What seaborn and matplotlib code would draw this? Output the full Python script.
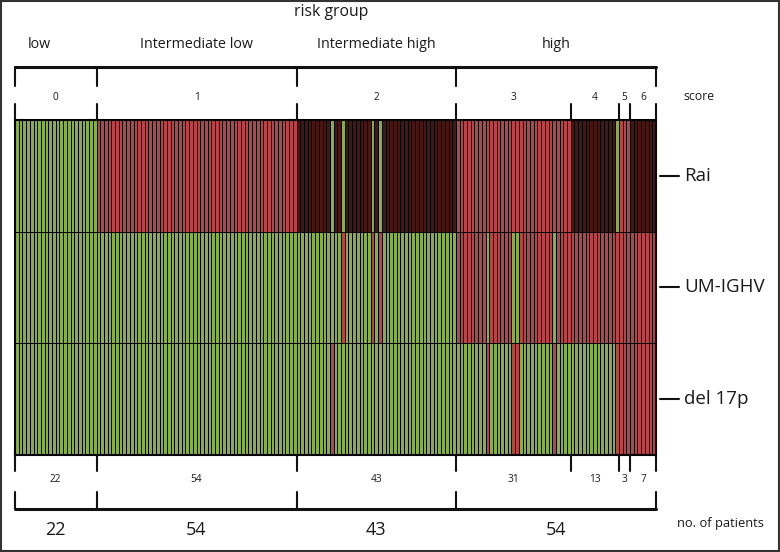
import numpy as np
import matplotlib
matplotlib.use('Agg')
import matplotlib.pyplot as plt
from matplotlib.colors import ListedColormap
from matplotlib.patches import Rectangle
import seaborn as sns

sns.set_style('white')
plt.rcParams['font.family'] = ['Open Sans', 'DejaVu Sans']

# patients per score
scores = ['0', '1', '2', '3', '4', '5', '6']
score_counts = [22, 54, 43, 31, 13, 3, 7]

# risk groups (score 0 / 1 / 2 / 3-6)
risk_groups = ['low', 'Intermediate low', 'Intermediate high', 'high']
risk_counts = [22, 54, 43, 54]

row_names = ['Rai', 'UM-IGHV', 'del 17p']

# per patient, run-length coded (value, count)
# Rai: 0 low, 1 intermediate, 2 high ; others: 0 no, 1 yes
rai_runs = [(0, 22), (1, 54), (2, 9), (0, 1), (2, 2), (0, 1), (2, 7), (0, 1), (2, 1),
            (0, 1), (2, 20), (1, 31), (2, 12), (0, 1), (1, 3), (2, 7)]
um_runs = [(0, 88), (1, 1), (0, 7), (1, 1), (0, 1), (1, 1), (0, 20), (1, 8), (0, 1),
           (1, 6), (0, 2), (1, 9), (0, 1), (1, 27)]
del_runs = [(0, 85), (1, 1), (0, 41), (1, 1), (0, 6), (1, 2), (0, 9), (1, 1), (0, 16), (1, 11)]


def decode(runs):
    return np.concatenate([np.full(n, v) for v, n in runs])


mat = np.vstack([decode(rai_runs), decode(um_runs), decode(del_runs)])
n = mat.shape[1]

green = '#89ad4a'
red = '#b4454b'
dark = '#461613'
cmap = ListedColormap([green, red, dark])

W, H = 780, 552
fig = plt.figure(figsize=(7.8, 5.52), dpi=100)

# heatmap placed in pixel frame
x0, x1 = 15, 656
y0, y1 = 120, 455
ax = fig.add_axes([x0 / W, 1 - y1 / H, (x1 - x0) / W, (y1 - y0) / H])
sns.heatmap(mat, cmap=cmap, vmin=-0.5, vmax=2.5, cbar=False, linewidths=0.7,
            linecolor='black', xticklabels=False, yticklabels=False, ax=ax)
for s in ax.spines.values():
    s.set_visible(True)
    s.set_linewidth(1.5)
    s.set_color('black')

# overlay in pixel coordinates
ov = fig.add_axes([0, 0, 1, 1], facecolor='none')
ov.set_xlim(0, W)
ov.set_ylim(H, 0)
ov.axis('off')

cw = (x1 - x0) / n


def px(col):
    return x0 + col * cw


score_edges = np.concatenate([[0], np.cumsum(score_counts)])
risk_edges = np.concatenate([[0], np.cumsum(risk_counts)])
lc = '#111111'
tc = '#1a1a1a'

# top bracket (risk groups)
ov.plot([px(0), px(n)], [67, 67], color=lc, lw=2.2)
for e in risk_edges:
    ov.plot([px(e), px(e)], [67, 86], color=lc, lw=1.5)
for i, g in enumerate(risk_groups):
    cx = px((risk_edges[i] + risk_edges[i + 1]) / 2)
    if i == 0:
        cx -= 16
    ov.text(cx, 45, g, ha='center', va='center', fontsize=10.3, color=tc)
ov.text(331, 12, 'risk group', ha='center', va='center', fontsize=11.3, color=tc)

# score ticks and labels
for e in score_edges:
    ov.plot([px(e), px(e)], [104, y0], color=lc, lw=1.5)
    ov.plot([px(e), px(e)], [y1, 471], color=lc, lw=1.5)
for i, s in enumerate(scores):
    cx = px((score_edges[i] + score_edges[i + 1]) / 2)
    ov.text(cx, 97, s, ha='center', va='center', fontsize=7.3, color=tc)
    ov.text(cx, 480, str(score_counts[i]), ha='center', va='center', fontsize=7.3, color=tc)
ov.text(699, 97, 'score', ha='center', va='center', fontsize=8.8, color=tc)

# row labels
row_y = [176, 287, 399]
for name, yy in zip(row_names, row_y):
    ov.plot([660, 679], [yy, yy], color=lc, lw=1.5)
    ov.text(684, yy, name, ha='left', va='center', fontsize=13.5, color=tc)

# bottom bracket (patients per risk group)
ov.plot([px(0), px(n)], [509, 509], color=lc, lw=2.2)
for e in risk_edges:
    ov.plot([px(e), px(e)], [492, 509], color=lc, lw=1.5)
for i, c in enumerate(risk_counts):
    cx = px((risk_edges[i] + risk_edges[i + 1]) / 2)
    ov.text(cx, 530, str(c), ha='center', va='center', fontsize=13, color=tc)
ov.text(720, 523, 'no. of patients', ha='center', va='center', fontsize=9.3, color=tc)

# image frame
ov.add_patch(Rectangle((1, 1), W - 2, H - 2, fill=False, edgecolor='#333333', lw=1.5))

fig.savefig('out.png', dpi=100)
